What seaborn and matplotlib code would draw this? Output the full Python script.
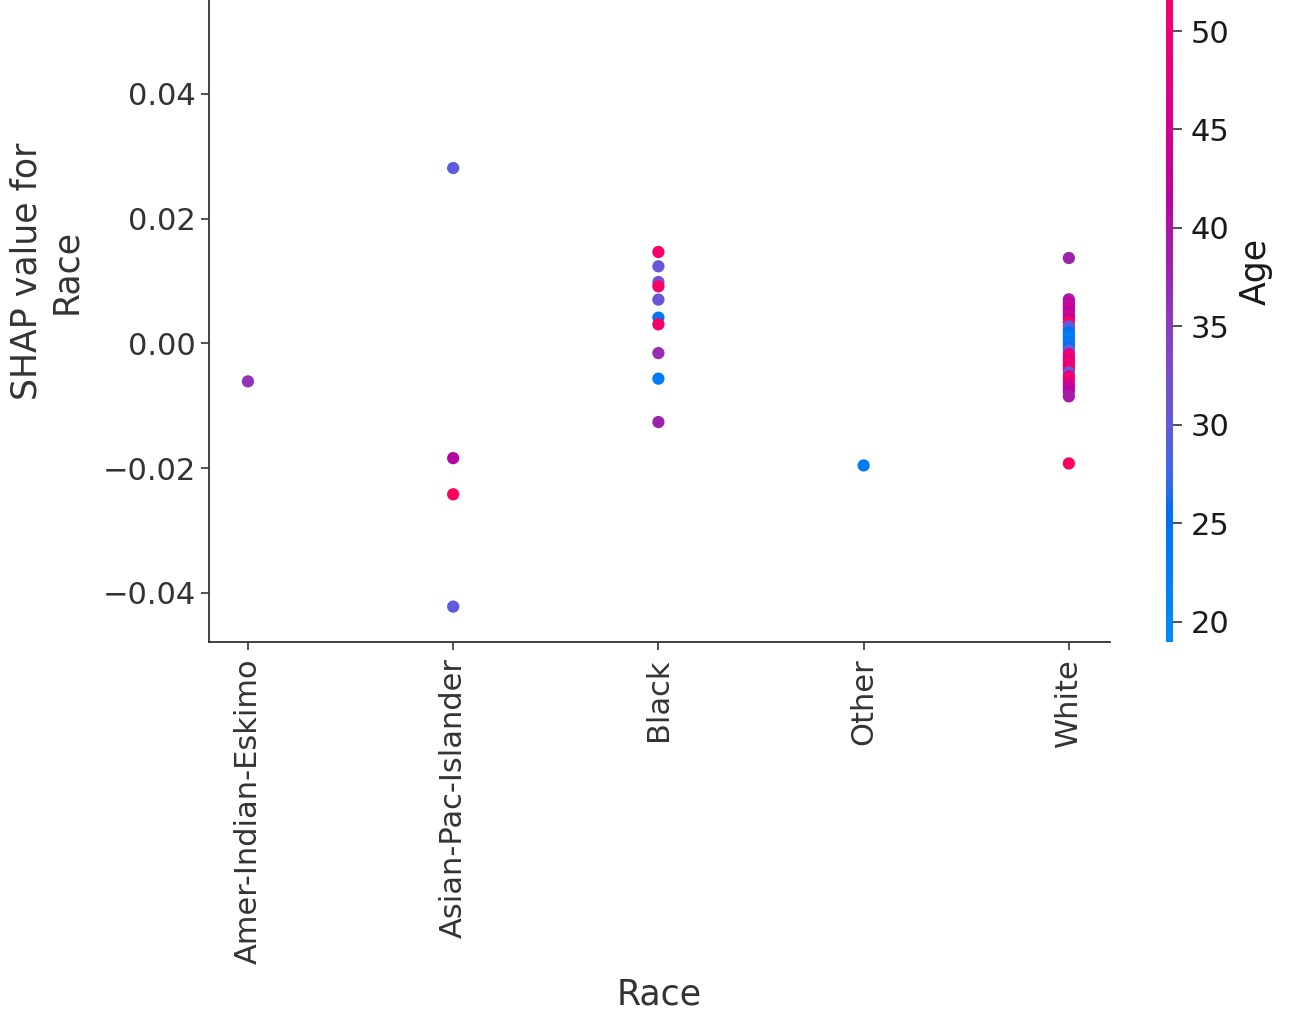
import numpy as np
import pandas as pd
import matplotlib
matplotlib.use("Agg")
import matplotlib.pyplot as plt
from matplotlib.colors import LinearSegmentedColormap, Normalize
from matplotlib.cm import ScalarMappable
import seaborn as sns

# ---- data -------------------------------------------------------------
race_amer = ["Amer-Indian-Eskimo"]
shap_amer = [-0.0061]
age_amer = [36]

race_asian = ["Asian-Pac-Islander"] * 4
shap_asian = [0.0281, -0.0184, -0.0242, -0.0422]
age_asian = [30, 41, 54, 30]

race_black = ["Black"] * 10
shap_black = [0.01464, 0.01235, 0.00983, 0.00914, 0.00701,
              0.00412, 0.00305, -0.00156, -0.00566, -0.01262]
age_black = [53, 31, 31, 53, 31, 24, 52, 37, 23, 38]

race_other = ["Other"]
shap_other = [-0.01957]
age_other = [23]

race_white = ["White"] * 32
shap_white = [0.01368, 0.00706, 0.00658, 0.00609, 0.00561, 0.00513,
               0.00449, 0.00401, 0.00337, 0.00273, 0.00225, 0.00176,
               0.00128, 0.0008, 0.00032, -0.00016, -0.00064, -0.00112,
               -0.00176, -0.00225, -0.00273, -0.00321, -0.00369, -0.00417,
               -0.00465, -0.00529, -0.00577, -0.00642, -0.00706, -0.0077,
               -0.0085, -0.01925]
age_white = [38, 38, 44, 40, 45, 41, 46, 42, 54, 31, 29, 26,
             24, 22, 25, 23, 26, 30, 47, 52, 46, 53, 48, 52,
             31, 47, 53, 46, 44, 41, 39, 54]

y_ticks = [-0.04, -0.02, 0.0, 0.02, 0.04]
cbar_ticks = [20, 25, 30, 35, 40, 45, 50]
age_min, age_max = 19.0, 56.6

df = pd.DataFrame({
    "Race": race_amer + race_asian + race_black + race_other + race_white,
    "SHAP": shap_amer + shap_asian + shap_black + shap_other + shap_white,
    "Age": age_amer + age_asian + age_black + age_other + age_white,
})


# ---- red/blue colormap interpolated in LCH space -------------------------
def lch_to_rgb(L, C, H):
    a = C * np.cos(H)
    b = C * np.sin(H)
    fy = (L + 16.0) / 116.0
    fx = fy + a / 500.0
    fz = fy - b / 200.0

    def finv(t):
        d = 6.0 / 29.0
        return np.where(t > d, t ** 3, 3 * d * d * (t - 4.0 / 29.0))

    xyz = np.array([0.95047 * finv(fx), 1.0 * finv(fy), 1.08883 * finv(fz)])
    m = np.array([[3.2406, -1.5372, -0.4986],
                  [-0.9689, 1.8758, 0.0415],
                  [0.0557, -0.2040, 1.0570]])
    lin = m @ xyz
    rgb = np.where(lin > 0.0031308, 1.055 * np.abs(lin) ** (1 / 2.4) - 0.055, 12.92 * lin)
    return np.clip(rgb, 0, 1)


blue_lch = [54.0, 70.0, 4.6588]
red_lch = [54.0, 90.0, 0.35470565 + 2 * np.pi]
l_mid = 40.0
nsteps = 100
l_vals = list(np.linspace(blue_lch[0], l_mid, nsteps // 2)) + list(np.linspace(l_mid, red_lch[0], nsteps // 2))
c_vals = np.linspace(blue_lch[1], red_lch[1], nsteps)
h_vals = np.linspace(blue_lch[2], red_lch[2], nsteps)
cols = [lch_to_rgb(l, c, h) for l, c, h in zip(l_vals, c_vals, h_vals)]
red_blue = LinearSegmentedColormap.from_list("red_blue", cols)

# ---- figure ---------------------------------------------------------------
axis_color = "#333333"
fig = plt.figure(figsize=(12.93, 10.13), dpi=100)
ax = fig.add_axes([0.1616, 0.3667, 0.6968, 0.7310])
cax = fig.add_axes([0.9018, 0.3667, 0.0056, 0.7310])

norm = Normalize(vmin=age_min, vmax=age_max)
sns.scatterplot(data=df, x="Race", y="SHAP", hue="Age", palette=red_blue,
                hue_norm=norm, s=78, linewidth=0, alpha=1, legend=False, ax=ax)

ax.set_xlim(-0.19, 4.2)
ax.set_ylim(-0.0478, 0.0709)
ax.set_yticks(y_ticks)
ax.set_xlabel("Race", fontsize=25, color=axis_color, labelpad=10)
ax.set_ylabel("SHAP value for\nRace", fontsize=25, color=axis_color, labelpad=14)
ax.tick_params(axis="x", labelrotation=90, pad=6)
ax.tick_params(color=axis_color, labelcolor=axis_color, labelsize=22,
               length=6, width=1.2)
sns.despine(ax=ax)
for side in ("left", "bottom"):
    ax.spines[side].set_color(axis_color)
    ax.spines[side].set_linewidth(1.3)

cb = fig.colorbar(ScalarMappable(norm=norm, cmap=red_blue), cax=cax, ticks=cbar_ticks)
cb.outline.set_visible(False)
cb.ax.tick_params(labelsize=22, length=6.5, width=1.2, color=axis_color, pad=6,
                  labelcolor="#1a1a1a")
cb.set_label("Age", fontsize=25, labelpad=7, color="#1a1a1a")

fig.savefig("out.png", dpi=100)
